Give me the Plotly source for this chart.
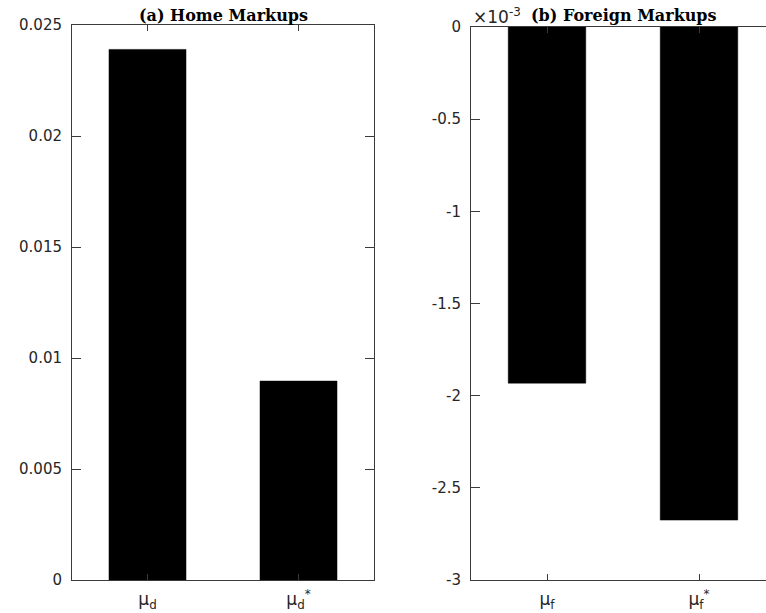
import plotly.graph_objects as go

# ---- data ----
home_categories = ["μ<sub>d</sub>", "μ<sub>d</sub><sup>*</sup>"]
home_markups = [0.0239, 0.00896]
foreign_categories = ["μ<sub>f</sub>", "μ<sub>f</sub><sup>*</sup>"]
foreign_markups = [-0.001932, -0.002675]

home_ticks = [0, 0.005, 0.01, 0.015, 0.02, 0.025]
home_ticktext = ["0", "0.005", "0.01", "0.015", "0.02", "0.025"]
foreign_ticks = [0, -0.0005, -0.001, -0.0015, -0.002, -0.0025, -0.003]
foreign_ticktext = ["0", "-0.5", "-1", "-1.5", "-2", "-2.5", "-3"]

W, H = 766, 613
axis_col = "#3a3a3a"
tick_font = dict(family="DejaVu Sans", size=15, color="#262626")
xtick_font = dict(family="DejaVu Sans", size=17, color="#262626")
title_font = dict(family="DejaVu Serif", size=16, color="black")

fig = go.Figure()
fig.add_trace(go.Bar(x=home_categories, y=home_markups, marker=dict(color="black", line=dict(color="black", width=0.5)),
                     xaxis="x", yaxis="y", showlegend=False, hoverinfo="skip"))
fig.add_trace(go.Bar(x=foreign_categories, y=foreign_markups, marker=dict(color="black", line=dict(color="black", width=0.5)),
                     xaxis="x2", yaxis="y2", showlegend=False, hoverinfo="skip"))

common_x = dict(type="category", showgrid=False, zeroline=False, showline=True, linecolor=axis_col, linewidth=1,
                ticks="inside", ticklen=6, tickcolor=axis_col, tickfont=xtick_font, ticklabelstandoff=4,
                fixedrange=True, automargin=False)
common_y = dict(showgrid=False, zeroline=False, showline=True, linecolor=axis_col, linewidth=1,
                ticks="inside", ticklen=9, tickcolor=axis_col, tickfont=tick_font, ticklabelstandoff=6,
                fixedrange=True, automargin=False)

# left panel: x 72..374 px, y 25..580 px
fig.update_layout(
    width=W, height=H,
    margin=dict(l=0, r=0, t=0, b=0, pad=0, autoexpand=False),
    paper_bgcolor="white", plot_bgcolor="white",
    bargap=0.49,
    xaxis=dict(domain=[72 / W, 374 / W], range=[-0.5, 1.5], anchor="y", mirror="ticks", **common_x),
    yaxis=dict(domain=[(H - 580) / H, (H - 25) / H], range=[0, 0.025], anchor="x", mirror="ticks",
               tickvals=home_ticks, ticktext=home_ticktext, **common_y),
    xaxis2=dict(domain=[471 / W, 1.0], range=[-0.5, 1.5 - 9 / 152], anchor="y2", mirror="ticks", **common_x),
    yaxis2=dict(domain=[(H - 580) / H, (H - 27) / H], range=[-0.003, 0], anchor="x2", mirror=False,
                tickvals=foreign_ticks, ticktext=foreign_ticktext, **common_y),
)

fig.add_annotation(text="<b>(a) Home Markups</b>", x=223 / W, y=(H - 15) / H, xref="paper", yref="paper",
                   showarrow=False, font=title_font, xanchor="center", yanchor="middle")
fig.add_annotation(text="<b>(b) Foreign Markups</b>", x=623.5 / W, y=(H - 15) / H, xref="paper", yref="paper",
                   showarrow=False, font=title_font, xanchor="center", yanchor="middle")
fig.add_annotation(text="×10<sup>-3</sup>", x=471 / W, y=(H - 16) / H, xref="paper", yref="paper",
                   showarrow=False, font=dict(family="DejaVu Sans", size=17, color="#262626"),
                   xanchor="left", yanchor="middle")

fig.write_html("out.html", config={"displayModeBar": False},
               post_script="document.body.style.margin='0';document.body.style.overflow='hidden';")
